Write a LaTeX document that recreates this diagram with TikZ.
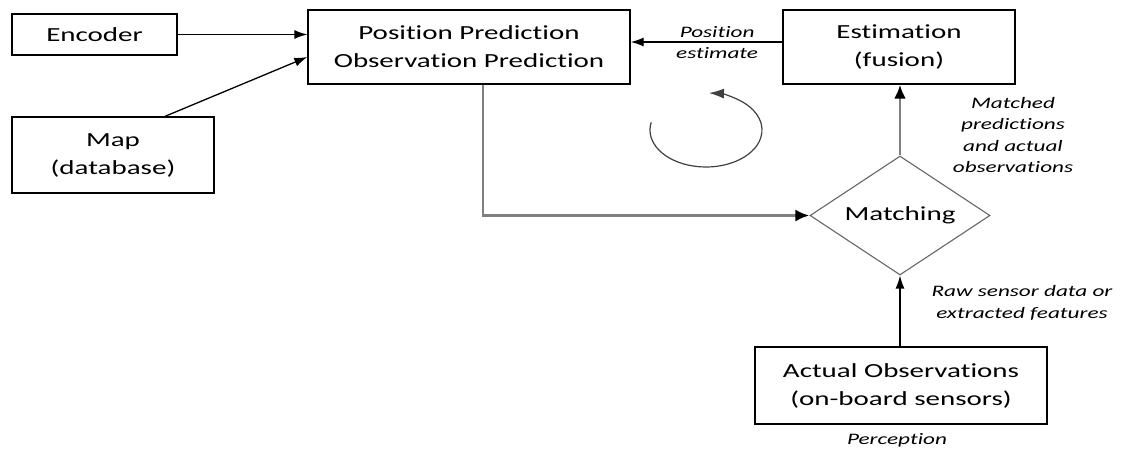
\documentclass[tikz,border=0pt]{standalone}
\usepackage{fontspec}
\setmainfont{Carlito}[FakeStretch=1.45, Ligatures=NoCommon]
\usetikzlibrary{shapes.geometric,arrows.meta}

\tikzset{
  tip/.style={-{Latex[length=13pt,width=9pt,color=black]}},
  bigtip/.style={-{Latex[length=14pt,width=12pt,color=black]}},
  block/.style={draw, line width=1.3pt, align=center, inner sep=0pt,
    font=\fontsize{20}{28}\selectfont},
  decision/.style={diamond, draw=black!60, line width=1.1pt, shape aspect=1.5,
    inner sep=0pt, minimum width=180pt, minimum height=119pt,
    font=\fontsize{20}{28}\selectfont},
  note/.style={align=center, inner sep=0pt, font=\fontsize{16}{21.5}\selectfont\itshape},
  link/.style={tip, line width=1.3pt},
  flow/.style={bigtip, line width=2.8pt, draw=black!50},
}

\begin{document}
\begin{tikzpicture}[x=1pt, y=1pt]
    \useasboundingbox (0,0) rectangle (1121,-450);

    % Blöcke
    \node[block, minimum width=165pt, minimum height=41pt] (enc) at (94.5,-34.5) {Encoder};
    \node[block, minimum width=202pt, minimum height=76pt] (map) at (113,-155) {Map\\(database)};
    \node[block, minimum width=322pt, minimum height=74pt] (pred) at (469,-47)
        {Position Prediction\\Observation Prediction};
    \node[block, minimum width=232pt, minimum height=74pt] (est) at (899,-47) {Estimation\\(fusion)};
    \node[decision] (match) at (900,-215.5) {Matching};
    \node[block, minimum width=292pt, minimum height=77pt] (obs) at (901,-385.5)
        {Actual Observations\\(on-board sensors)};

    % Verbindungen
    \draw[link] (enc.east) -- (enc.east -| pred.west);
    \draw[link] ([xshift=52pt]map.north) -- ([yshift=-10pt]pred.west);
    \draw[flow] ([xshift=14pt]pred.south) |- (match.west);
    \draw[flow] (match.north) -- (match.north |- est.south);
    \draw[link] (match.south |- obs.north) -- (match.south);
    \draw[link] ([yshift=5pt]est.west) -- node[pos=0.43, above=4pt, note] {Position}
        node[pos=0.43, below=5pt, note] {estimate} ([yshift=5pt]pred.east);

    % Zyklus
    \coordinate (loop) at (706,-130);
    \draw[-{Latex[length=15pt,width=10pt]}, line width=1.2pt, draw=black!75]
        ([shift={(168:56pt and 37pt)}]loop)
        arc[start angle=168, end angle=447, x radius=56pt, y radius=37pt];

    % Beschriftungen
    \node[note] (lmatch) at (1013,-135) {Matched\\predictions\\and actual\\observations};
    \node[note] (lraw) at (1022,-303) {Raw sensor data or\\extracted features};
    \node[note] (lperc) at (897,-440) {Perception};
\end{tikzpicture}
\end{document}
